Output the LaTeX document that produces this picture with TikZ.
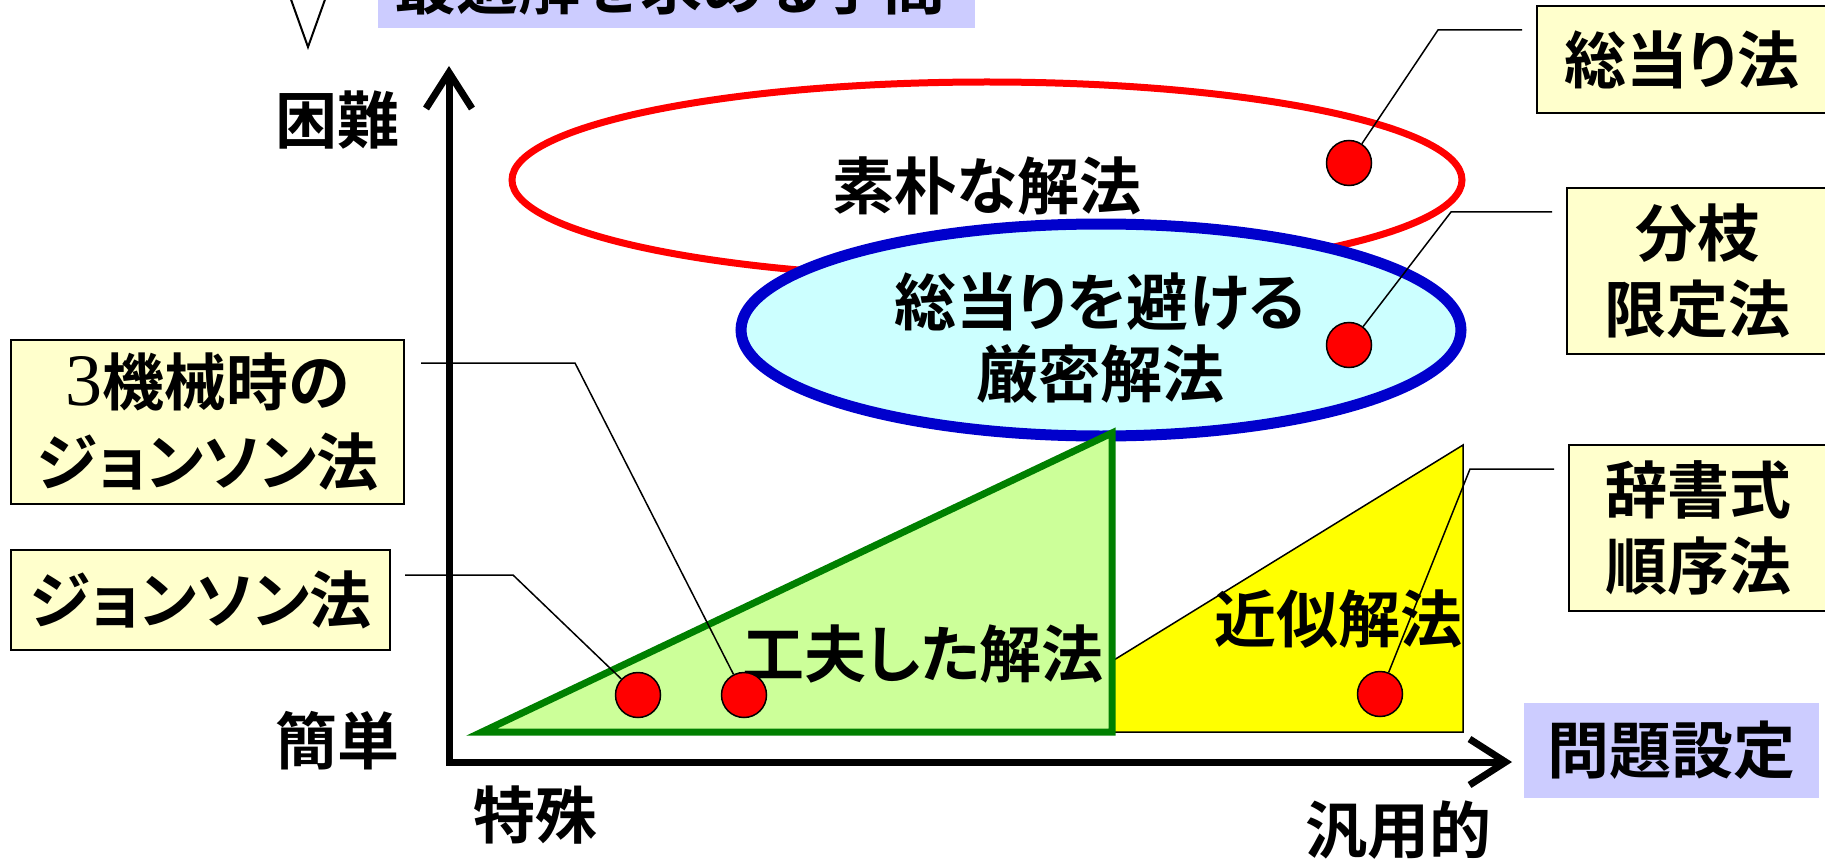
\documentclass[tikz,border=0pt]{standalone}
\usepackage{fontspec}
\setmainfont{Noto Sans CJK JP Bold}[RawFeature=+palt]
\newfontfamily\numfont{Liberation Serif}
\usetikzlibrary{arrows.meta,shapes.geometric}
\definecolor{lav}{HTML}{CCCCFF}
\definecolor{cream}{HTML}{FFFFCC}
\definecolor{cyanf}{HTML}{CCFFFF}
\definecolor{bluel}{HTML}{0000CC}
\definecolor{greenl}{HTML}{008000}
\definecolor{greenf}{HTML}{CCFF99}
\definecolor{yel}{HTML}{FFFF00}
\definecolor{redd}{HTML}{FF0000}
\begin{document}
\begin{tikzpicture}[x=1pt,y=-1pt,
  txt/.style={font=\fontsize{62}{76}\selectfont, align=center, inner sep=0pt},
  callout/.style={txt, draw=black, line width=1.5pt, fill=cream},
  lavbox/.style={txt, fill=lav},
  dot/.style={circle, draw=black, line width=1.5pt, fill=redd, minimum size=45pt, inner sep=0pt},
  leader/.style={draw=black, line width=1.5pt},
  axisline/.style={line width=7pt, line join=miter, {Straight Barb[length=36pt,width=46pt]}-{Straight Barb[length=36pt,width=46pt]}}
]
\useasboundingbox (0,0) rectangle (1825,861);

% top (clipped) label and marker
\node[lavbox, minimum width=597pt, minimum height=160pt] (topbox) at (676.5,-52) {};
\node[txt] (toptext) at (670,-14) {最適解を求める手間};
\draw[line width=2pt] (284,-20) -- (308,47) -- (332,-20) -- cycle;

% red ellipse
\node[ellipse, draw=redd, line width=7pt, minimum width=950pt, minimum height=196pt, inner sep=0pt] (naive) at (987,180) {};
\node[txt] (naivet) at (987,186) {素朴な解法};

% blue ellipse
\node[ellipse, draw=bluel, fill=cyanf, line width=11pt, minimum width=720pt, minimum height=212pt, inner sep=0pt] (exact) at (1101,330) {};
\node[txt, font=\fontsize{62}{72}\selectfont] (exactt) at (1100,338) {総当りを避ける\\厳密解法};

% yellow region
\draw[fill=yel, draw=black, line width=1.5pt] (997,732) -- (1463,445) -- (1463,732) -- cycle;
% green triangle
\draw[fill=greenf, draw=greenl, line width=7pt, line join=miter] (482,732) -- (1112,433) -- (1112,732) -- cycle;
\node[txt] (kufu) at (923,654) {工夫した解法};
\node[txt] (kinji) at (1338,619) {近似解法};

% axes
\coordinate (ytip) at (449,66);
\coordinate (O) at (449,762);
\coordinate (xtip) at (1512,762);
\draw[axisline] (ytip) -- (O) -- (xtip);

% axis labels
\node[txt] (konnan) at (337,120) {困難};
\node[txt] (kantan) at (337,741) {簡単};
\node[txt] (tokushu) at (535,815) {特殊};
\node[txt] (hanyou) at (1398,830) {汎用的};
\node[lavbox, minimum width=295pt, minimum height=95pt] (mondai) at (1671.5,750.5) {問題設定};

% callout boxes
\node[callout, minimum width=290pt, minimum height=107pt] (sou) at (1682,59.5) {総当り法};
\node[callout, minimum width=260pt, minimum height=166pt] (bunshi) at (1697,271) {分枝\\限定法};
\node[callout, minimum width=258pt, minimum height=166pt] (jisho) at (1698,528) {辞書式\\順序法};
\node[callout, minimum width=393pt, minimum height=164pt, font=\fontsize{62}{80}\selectfont] (kikai) at (207.5,422) {{\numfont\fontsize{74}{80}\selectfont 3}機械時の\\ジョンソン法};
\node[callout, minimum width=379pt, minimum height=100pt] (johnson) at (200.5,600) {ジョンソン法};

% leader end points
\coordinate (c1a) at (1438,30);  \coordinate (c1b) at (1522,30);
\coordinate (c2a) at (1451,212); \coordinate (c2b) at (1552,212);
\coordinate (c5a) at (1470,469); \coordinate (c5b) at (1554,469);
\coordinate (c4a) at (575,363);  \coordinate (c4b) at (421,363);
\coordinate (c3a) at (513,575);  \coordinate (c3b) at (405,575);

% dots
\node[dot] (d1) at (1349,163) {};
\node[dot] (d2) at (1349,345) {};
\node[dot] (d3) at (638,695) {};
\node[dot] (d4) at (744,695) {};
\node[dot] (d5) at (1380,694) {};

% leaders
\draw[leader] (d1) -- (c1a) -- (c1b);
\draw[leader] (d2) -- (c2a) -- (c2b);
\draw[leader] (d5) -- (c5a) -- (c5b);
\draw[leader] (d4) -- (c4a) -- (c4b);
\draw[leader] (d3) -- (c3a) -- (c3b);
\end{tikzpicture}
\end{document}
